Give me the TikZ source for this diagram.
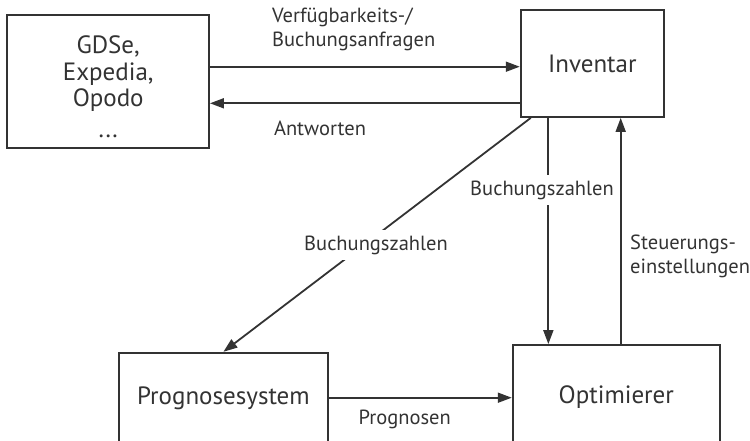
\documentclass[tikz,border=0pt]{standalone}
\usepackage{fontspec}
\setmainfont{PT Sans}
\usetikzlibrary{arrows.meta,calc}
\definecolor{ink}{HTML}{333333}
\begin{document}
\begin{tikzpicture}[x=1pt,y=-1pt,
  box/.style={draw=ink,line width=1.8pt,inner sep=0pt},
  boxtext/.style={text=ink,font=\fontsize{25}{26.5}\selectfont,align=center,inner sep=0pt},
  flow/.style={draw=ink,line width=1.8pt,-{Triangle[length=14pt,width=10pt]}},
  lbl/.style={text=ink,font=\fontsize{20.5}{24}\selectfont,inner sep=1pt}]
\useasboundingbox (0,0) rectangle (750,441);
\clip (0,0) rectangle (750,441);
% boxes
\node[box,minimum width=201.7pt,minimum height=133pt] (gds) at (108.2,81.5) {};
\node[boxtext] (gdstext) at (108.2,87) {GDSe,\\Expedia,\\Opodo\\[4pt]...};
\node[box,boxtext,minimum width=143.3pt,minimum height=107pt] (inv) at (592.3,63.5) {Inventar};
\node[box,boxtext,minimum width=208.7pt,minimum height=90.6pt] (prog) at (223.4,398) {Prognosesystem};
\node[box,boxtext,minimum width=207.3pt,minimum height=104pt] (opt) at (616.3,397) {Optimierer};
% requests and replies
\draw[flow] (gds.east |- 0,66.7) -- (inv.west |- 0,66.7);
\draw[flow] (inv.west |- 0,103.3) -- (gds.east |- 0,103.3);
\node[lbl,anchor=west,align=left] (req) at (271,29.5) {Verfügbarkeits-/\\Buchungsanfragen};
\node[lbl] (ans) at (320,128) {Antworten};
% booking figures
\coordinate (bzd) at ($(inv.south west)+(11,0)$);
\coordinate (bzv) at ($(inv.south west)+(28.6,0)$);
\draw[flow] (bzd) -- (prog.north);
\node[lbl,fill=white,inner sep=6pt] (bzdl) at (376,245) {Buchungszahlen};
\draw[flow] (bzv) -- (bzv |- opt.north);
\node[lbl,fill=white,inner sep=6pt] (bzvl) at (542,190) {Buchungszahlen};
% control settings
\coordinate (st) at (620.7,0);
\draw[flow] (st |- opt.north) -- (st |- inv.south);
\node[lbl,anchor=west,align=left] (stl) at (629,256) {Steuerungs-\\einstellungen};
% forecasts
\draw[flow] (prog.east |- 0,397.7) -- (opt.west |- 0,397.7);
\node[lbl] (pl) at (404.7,419) {Prognosen};
\end{tikzpicture}
\end{document}
